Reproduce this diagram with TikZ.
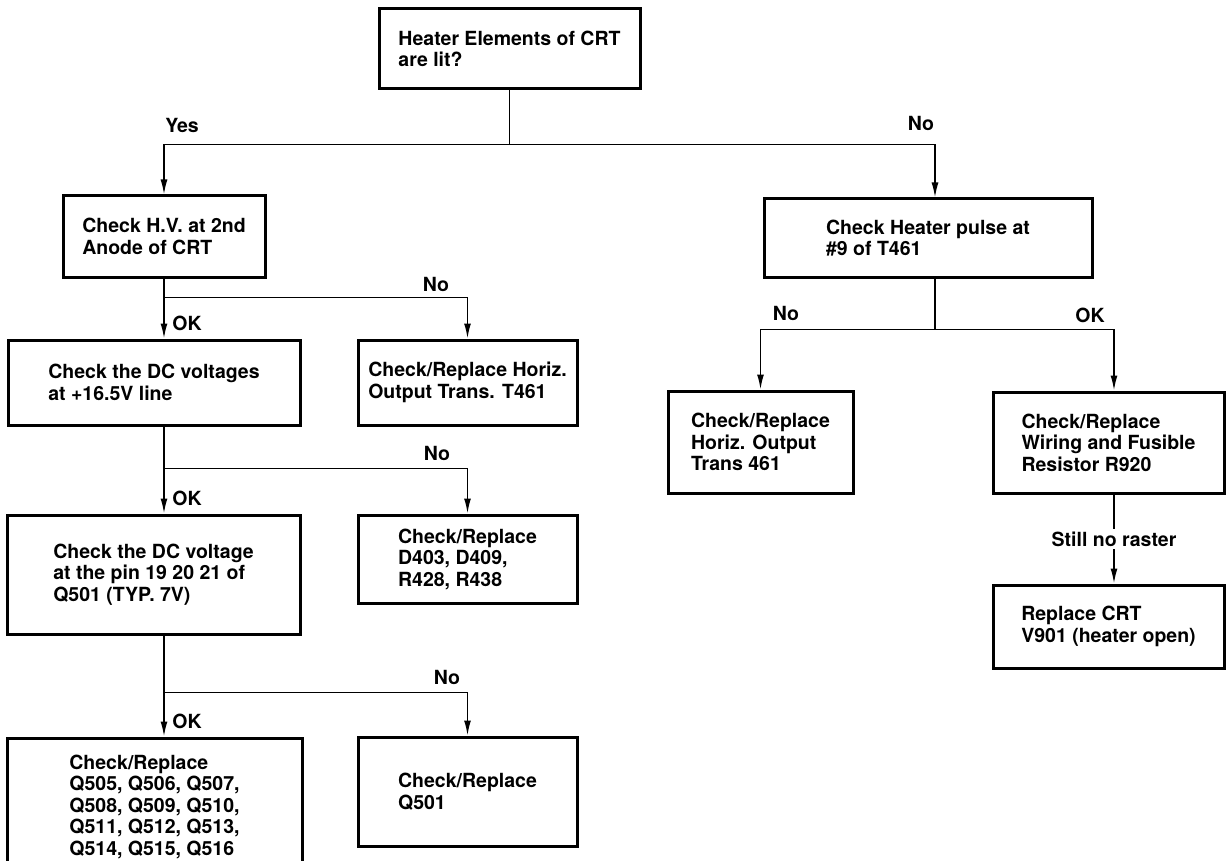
\documentclass[tikz,border=0pt]{standalone}
\usepackage{fontspec}
\setmainfont{TeX Gyre Heros}
\usetikzlibrary{arrows.meta}

\begin{document}
\begin{tikzpicture}[x=1pt,y=-1pt,
  font=\fontsize{19.5}{21.5}\selectfont\bfseries,
  box/.style={draw,line width=3pt,align=left,inner sep=0pt},
  link/.style={line width=1.6pt},
  flow/.style={link,-{Latex[length=15pt,width=7pt]}}]

\useasboundingbox (0,0) rectangle (1226,861);

% Question at the top
\node[box,minimum width=261pt,minimum height=80pt] (lit) at (509.5,49) {Heater Elements of CRT\\are lit?};

% Yes side
\node[box,minimum width=202pt,minimum height=81pt] (hv) at (164,236.5) {Check H.V. at 2nd\\Anode of CRT};
\node[box,minimum width=292pt,minimum height=85pt] (dcline) at (154,382.5) {Check the DC voltages\\at +16.5V line};
\node[box,minimum width=219pt,minimum height=85pt] (fbt) at (467.5,382.5) {Check/Replace Horiz.\\Output Trans. T461};
\node[box,minimum width=293pt,minimum height=119pt] (dcpin) at (153.5,574.5) {Check the DC voltage\\at the pin 19 20 21 of\\Q501 (TYP. 7V)};
\node[box,minimum width=219pt,minimum height=88pt] (diodes) at (467.5,559) {Check/Replace\\D403, D409,\\R428, R438};
\node[box,minimum width=295pt,minimum height=137pt] (qlist) at (154.5,806.5) {Check/Replace\\Q505, Q506, Q507,\\Q508, Q509, Q510,\\Q511, Q512, Q513,\\Q514, Q515, Q516};
\node[box,minimum width=219pt,minimum height=109pt] (qchip) at (467.5,791.5) {Check/Replace\\Q501};

% No side
\node[box,minimum width=328pt,minimum height=78pt] (pulse) at (928,238) {Check Heater pulse at\\\#9 of T461};
\node[box,minimum width=185pt,minimum height=102pt] (trans) at (760.5,442) {Check/Replace\\Horiz. Output\\Trans 461};
\node[box,minimum width=231pt,minimum height=101pt] (wiring) at (1108.5,442.5) {Check/Replace\\Wiring and Fusible\\Resistor R920};
\node[box,minimum width=231pt,minimum height=83pt] (crt) at (1108.5,626.5) {Replace CRT\\V901 (heater open)};

% First split
\draw[flow] (lit.south) -- ++(0,54) -| (hv.north);
\draw[flow] (lit.south) -- ++(0,54) -| ([xshift=7pt]pulse.north);
\node (yes) at (182,125) {Yes};
\node (nolit) at (921,123) {No};

% Yes branch
\draw[flow] (hv.south) -- (hv.south |- dcline.north);
\draw[flow] (hv.south) -- ++(0,19) -| (fbt.north);
\node (okhv) at (187,323) {OK};
\node (nohv) at (436,284) {No};

\draw[flow] (hv.south |- dcline.south) -- (hv.south |- dcpin.north);
\draw[flow] (hv.south |- dcline.south) -- ++(0,42) -| (diodes.north);
\node (okline) at (187,498) {OK};
\node (noline) at (437,453) {No};

\draw[flow] (hv.south |- dcpin.south) -- (hv.south |- qlist.north);
\draw[flow] (hv.south |- dcpin.south) -- ++(0,57) -| (qchip.north);
\node (okpin) at (187,721.5) {OK};
\node (nopin) at (447,677) {No};

% No branch
\draw[flow] ([xshift=7pt]pulse.south) -- ++(0,51) -| (trans.north);
\draw[flow] ([xshift=7pt]pulse.south) -- ++(0,51) -| ([xshift=5.5pt]wiring.north);
\node (nopulse) at (786,313.5) {No};
\node (okpulse) at (1090,315) {OK};

\draw[flow] ([xshift=5.5pt]wiring.south) -- node[fill=white,inner sep=3pt] (raster) {Still no raster} ([xshift=5.5pt]wiring.south |- crt.north);

\end{tikzpicture}
\end{document}
